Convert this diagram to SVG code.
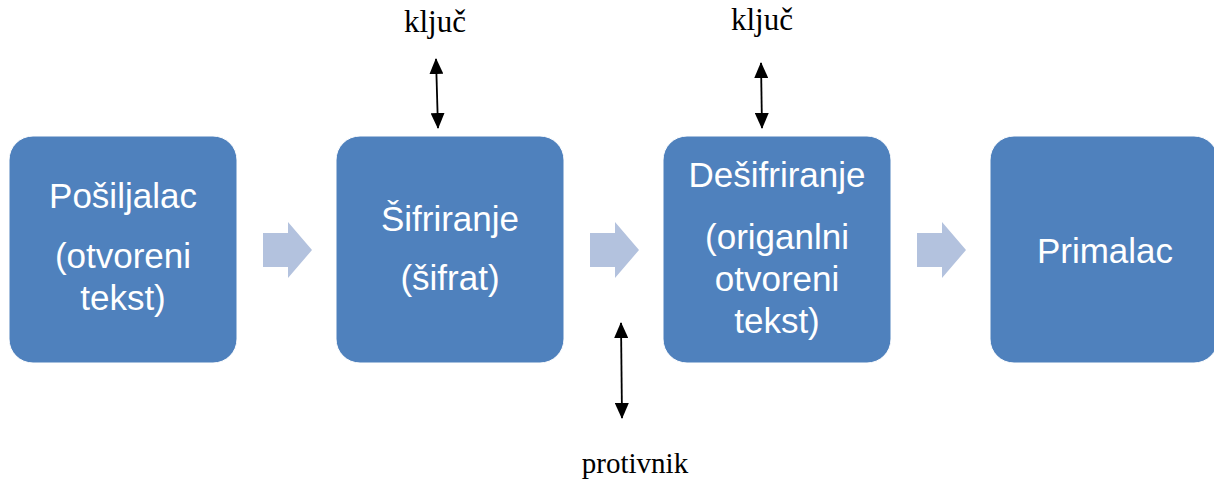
<svg xmlns="http://www.w3.org/2000/svg" width="1214" height="479" viewBox="0 0 1214 479">
<style>
.box{fill:#4F81BD;stroke:#FFFFFF;stroke-width:1}
.bt{font-family:"Liberation Sans",Arial,sans-serif;font-size:35px;fill:#FFFFFF;text-anchor:middle}
.flow{fill:#B3C2DE}
.lbl{font-family:"Liberation Serif","Times New Roman",serif;font-size:29px;fill:#000000;text-anchor:middle}
.k{font-size:31px}
.key{stroke:#000000;stroke-width:1.8;fill:none;marker-start:url(#ah);marker-end:url(#ah)}
</style>
<defs>
<marker id="ah" viewBox="0 0 16 14" refX="15" refY="7" markerWidth="16" markerHeight="14" markerUnits="userSpaceOnUse" orient="auto-start-reverse">
<path d="M0,0 L16,7 L0,14 Z" fill="#000000"/>
</marker>
</defs>
<rect width="1214" height="479" fill="#FFFFFF"/>
<g id="node-posiljalac">
<rect class="box" x="9" y="136" width="228" height="227" rx="24"/>
<text class="bt" x="123" y="208">Pošiljalac</text>
<text class="bt" x="123" y="268">(otvoreni</text>
<text class="bt" x="123" y="310">tekst)</text>
</g>
<g id="node-sifriranje">
<rect class="box" x="336" y="136" width="228" height="227" rx="24"/>
<text class="bt" x="450" y="231">Šifriranje</text>
<text class="bt" x="450" y="290">(šifrat)</text>
</g>
<g id="node-desifriranje">
<rect class="box" x="663" y="136" width="228" height="227" rx="24"/>
<text class="bt" x="777" y="187">Dešifriranje</text>
<text class="bt" x="777" y="249">(origanlni</text>
<text class="bt" x="777" y="291">otvoreni</text>
<text class="bt" x="777" y="333">tekst)</text>
</g>
<g id="node-primalac">
<rect class="box" x="990" y="136" width="228" height="227" rx="24"/>
<text class="bt" x="1105" y="263">Primalac</text>
</g>
<g id="label-kljuc1"><text class="lbl k" x="435" y="32">ključ</text></g>
<g id="label-kljuc2"><text class="lbl k" x="762" y="30">ključ</text></g>
<g id="label-protivnik"><text class="lbl" x="635" y="473">protivnik</text></g>
<g id="connectors">
<path class="flow" d="M263,233 H288 V222 L312,250 L288,278 V267 H263 Z"/>
<path class="flow" d="M590,233 H615 V222 L639,250 L615,278 V267 H590 Z"/>
<path class="flow" d="M917,233 H942 V222 L966,250 L942,278 V267 H917 Z"/>
<line class="key" x1="436" y1="59" x2="438" y2="128"/>
<line class="key" x1="761" y1="63" x2="762" y2="128"/>
<line class="key" x1="621" y1="323" x2="622" y2="418"/>
</g>
</svg>
